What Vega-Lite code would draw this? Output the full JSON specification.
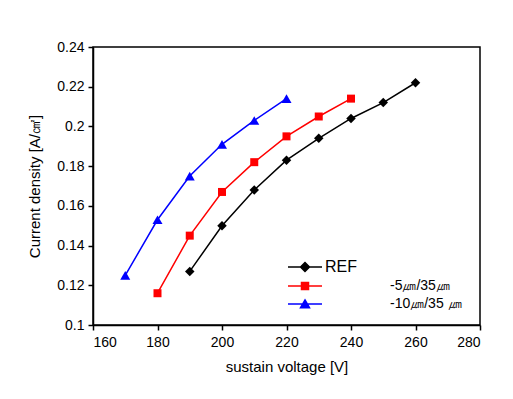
{
  "$schema": "https://vega.github.io/schema/vega-lite/v6.json",
  "width": 387,
  "height": 278,
  "autosize": "none",
  "padding": {"left": 93, "top": 47, "right": 33, "bottom": 74},
  "background": "white",
  "config": {
    "font": "Liberation Sans",
    "view": {"stroke": "#000000", "strokeWidth": 1.5},
    "axis": {
      "grid": false,
      "domainColor": "#000000",
      "domainWidth": 1.5,
      "tickColor": "#000000",
      "tickWidth": 1.5,
      "tickSize": 5,
      "labelColor": "#000000",
      "labelFontSize": 14,
      "labelFont": "Liberation Sans",
      "titleFont": "Liberation Sans",
      "titleFontSize": 15,
      "titleFontWeight": "normal",
      "titleColor": "#000000"
    }
  },
  "data": {
    "values": [
      {"series": "REF", "voltage": 190, "current": 0.127},
      {"series": "REF", "voltage": 200, "current": 0.150},
      {"series": "REF", "voltage": 210, "current": 0.168},
      {"series": "REF", "voltage": 220, "current": 0.183},
      {"series": "REF", "voltage": 230, "current": 0.194},
      {"series": "REF", "voltage": 240, "current": 0.204},
      {"series": "REF", "voltage": 250, "current": 0.212},
      {"series": "REF", "voltage": 260, "current": 0.222},
      {"series": "-5㎛/35㎛", "voltage": 180, "current": 0.116},
      {"series": "-5㎛/35㎛", "voltage": 190, "current": 0.145},
      {"series": "-5㎛/35㎛", "voltage": 200, "current": 0.167},
      {"series": "-5㎛/35㎛", "voltage": 210, "current": 0.182},
      {"series": "-5㎛/35㎛", "voltage": 220, "current": 0.195},
      {"series": "-5㎛/35㎛", "voltage": 230, "current": 0.205},
      {"series": "-5㎛/35㎛", "voltage": 240, "current": 0.214},
      {"series": "-10㎛/35 ㎛", "voltage": 170, "current": 0.125},
      {"series": "-10㎛/35 ㎛", "voltage": 180, "current": 0.153},
      {"series": "-10㎛/35 ㎛", "voltage": 190, "current": 0.175},
      {"series": "-10㎛/35 ㎛", "voltage": 200, "current": 0.191},
      {"series": "-10㎛/35 ㎛", "voltage": 210, "current": 0.203},
      {"series": "-10㎛/35 ㎛", "voltage": 220, "current": 0.214}
    ]
  },
  "encoding": {
    "x": {
      "field": "voltage",
      "type": "quantitative",
      "scale": {"domain": [160, 280], "nice": false, "zero": false},
      "axis": {"values": [160, 180, 200, 220, 240, 260, 280], "title": "sustain voltage [V]", "labelPadding": 5, "titlePadding": 10}
    },
    "y": {
      "field": "current",
      "type": "quantitative",
      "scale": {"domain": [0.1, 0.24], "nice": false, "zero": false},
      "axis": {"values": [0.1, 0.12, 0.14, 0.16, 0.18, 0.2, 0.22, 0.24], "format": ".2~f", "title": "Current density [A/㎠]", "labelPadding": 4, "titlePadding": 14}
    }
  },
  "layer": [
    {
      "mark": {"type": "line", "strokeWidth": 1.5},
      "encoding": {
        "color": {
          "field": "series",
          "type": "nominal",
          "scale": {"domain": ["REF", "-5㎛/35㎛", "-10㎛/35 ㎛"], "range": ["#000000", "#ff0000", "#0000ff"]},
          "legend": {
            "title": null,
            "orient": "none",
            "legendX": 205,
            "legendY": 213,
            "padding": 0,
            "symbolSize": 100,
            "symbolStrokeWidth": 1.5,
            "labelOffset": 13,
            "labelFontSize": 14,
            "labelColor": "#000000",
            "rowPadding": 4,
            "encode": {
              "symbols": {
                "update": {
                  "shape": {"signal": "datum.value === 'REF' ? 'M-3.4,0L3.4,0M-0.9,0L0,-0.9L0.9,0L0,0.9Z' : (datum.value === '-5㎛/35㎛' ? 'M-3.4,0L3.4,0M-0.7,-0.7L0.7,-0.7L0.7,0.7L-0.7,0.7Z' : 'M-3.4,0L3.4,0M0,-0.8L0.9,0.75L-0.9,0.75Z')"},
                  "fill": {"signal": "scale('color', datum.value)"},
                  "stroke": {"signal": "scale('color', datum.value)"},
                  "strokeWidth": {"value": 1.5},
                  "opacity": {"value": 1}
                }
              },
              "labels": {
                "update": {
                  "dx": {"signal": "datum.value === 'REF' ? 0 : 65"},
                  "fontSize": {"signal": "datum.value === 'REF' ? 16 : 14"}
                }
              }
            }
          }
        }
      }
    },
    {
      "transform": [{"filter": "datum.series === 'REF'"}],
      "mark": {"type": "point", "filled": true, "opacity": 1, "shape": "diamond", "size": 90, "color": "#000000"}
    },
    {
      "transform": [{"filter": "datum.series === '-5㎛/35㎛'"}],
      "mark": {"type": "point", "filled": true, "opacity": 1, "shape": "square", "size": 64, "color": "#ff0000"}
    },
    {
      "transform": [{"filter": "datum.series === '-10㎛/35 ㎛'"}],
      "mark": {"type": "point", "filled": true, "opacity": 1, "shape": "triangle-up", "size": 100, "color": "#0000ff"}
    }
  ]
}
